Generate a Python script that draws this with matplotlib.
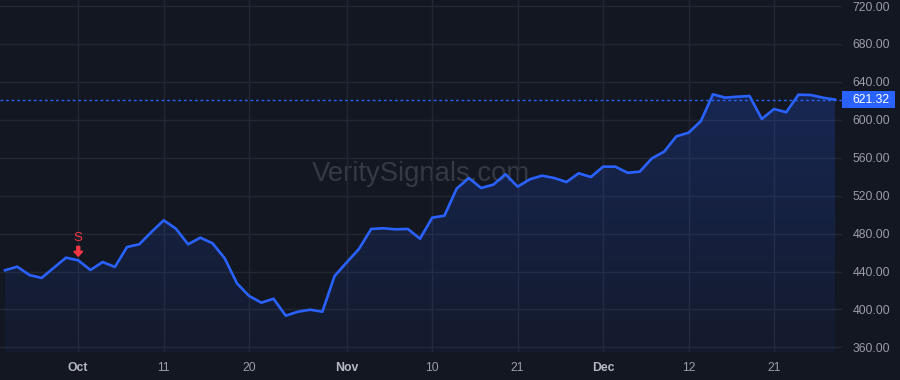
import numpy as np
import matplotlib
matplotlib.use("Agg")
import matplotlib.pyplot as plt
import matplotlib.transforms as mtransforms
from matplotlib.patches import Rectangle, FancyArrow
from matplotlib.colors import LinearSegmentedColormap

# ---- data ----
values = [441.3, 445.1, 436.3, 433.2, 444.0, 454.6, 451.8, 441.6, 450.0, 444.8,
          465.9, 468.7, 481.7, 494.0, 485.2, 468.7, 475.7, 469.8, 453.9, 427.6,
          414.2, 407.1, 411.3, 393.4, 397.6, 399.7, 397.6, 435.3, 449.7, 463.8,
          484.9, 485.6, 484.5, 484.9, 474.6, 496.8, 498.9, 527.4, 538.6, 528.1,
          531.6, 542.6, 529.5, 537.3, 541.1, 538.6, 534.4, 543.6, 539.7, 550.6,
          550.6, 544.2, 545.3, 559.4, 566.4, 582.6, 586.4, 598.5, 626.9, 623.4,
          624.4, 625.1, 600.9, 611.4, 608.0, 626.5, 626.2, 623.4, 621.32]
tick_idx = [6, 13, 20, 28, 35, 42, 49, 56, 63]
tick_labels = ["Oct", "11", "20", "Nov", "10", "21", "Dec", "12", "21"]
month_labels = {"Oct", "Nov", "Dec"}
y_ticks = [360, 400, 440, 480, 520, 560, 600, 640, 680, 720]
signal_idx = 6
signal_text = "S"
last_price = values[-1]
watermark = "VeritySignals.com"

# ---- style ----
BG = "#131722"
GRID = "#232733"
LINE = "#2962ff"
TXT = "#9a9da6"
RED = "#f23645"

plt.rcParams['font.family'] = ['Liberation Sans', 'DejaVu Sans']

fig = plt.figure(figsize=(9, 3.8), dpi=100, facecolor=BG)
ax = fig.add_axes([0.0, 28 / 380, 842 / 900, 352 / 380], facecolor=BG)

x = np.arange(len(values))
y = np.array(values)

xmin, xmax = -0.41, 68.57
ymin, ymax = 355.1, 726.4
ax.set_xlim(xmin, xmax)
ax.set_ylim(ymin, ymax)

# gradient fill under the line
cmap = LinearSegmentedColormap.from_list(
    "g", [(0.16, 0.384, 1.0, 0.05), (0.16, 0.384, 1.0, 0.22)])
grad = np.linspace(0, 1, 256).reshape(-1, 1)
im = ax.imshow(grad, cmap=cmap, aspect="auto", origin="lower",
               extent=[x[0], x[-1], ymin, y.max()], zorder=1)
poly = ax.fill_between(x, y, ymin, color="none", zorder=1)
clip = poly.get_paths()[0]
im.set_clip_path(clip, transform=ax.transData)

ax.plot(x, y, color=LINE, lw=1.9, zorder=3, solid_joinstyle="round")

# last price dotted line
ax.axhline(last_price, color=LINE, lw=1.0, ls=(0, (2, 2)), zorder=2)

# grid
ax.set_yticks(y_ticks)
ax.set_yticklabels([f"{v:.2f}" for v in y_ticks])
ax.set_xticks(tick_idx)
ax.set_xticklabels(tick_labels)
ax.grid(True, color=GRID, lw=1.0, zorder=0)
ax.set_axisbelow(True)
for s in ax.spines.values():
    s.set_visible(False)
ax.yaxis.tick_right()
ax.tick_params(axis="y", length=0, pad=7.5, labelsize=8.8, labelcolor=TXT)
ax.tick_params(axis="x", length=0, pad=7.5, labelsize=8.8, labelcolor=TXT)
for lab in ax.get_xticklabels():
    if lab.get_text() in month_labels:
        lab.set_fontweight("bold")
        lab.set_color("#b6b9c2")

# watermark
ax.text(0.5, 0.505, watermark, transform=ax.transAxes, ha="center", va="center",
        fontsize=19.8, color="#353944", zorder=0.5, family="Liberation Sans")

# signal marker
ax.annotate(signal_text, xy=(x[signal_idx], y[signal_idx]), xytext=(0, 11.5),
            textcoords="offset points", ha="center", va="bottom",
            fontsize=9.5, color=RED, zorder=5)
px, py = ax.transData.transform((x[signal_idx], y[signal_idx]))
fig.patches.append(FancyArrow(px, py + 14, 0, -10, width=3, head_width=9,
                              head_length=5, length_includes_head=True,
                              color=RED, transform=None, figure=fig))

# price tag
bt = mtransforms.blended_transform_factory(ax.transAxes, ax.transData)
ax.add_patch(Rectangle((1.0, last_price - 8.7), 53 / 842, 17.4, transform=bt,
                       facecolor=LINE, edgecolor="none", clip_on=False, zorder=6))
ax.text(1.0 + 10 / 842, last_price, f"{last_price:.2f}", transform=bt,
        ha="left", va="center", fontsize=8.8, color="white", zorder=7,
        clip_on=False)

fig.savefig("out.png", dpi=100, facecolor=BG)
